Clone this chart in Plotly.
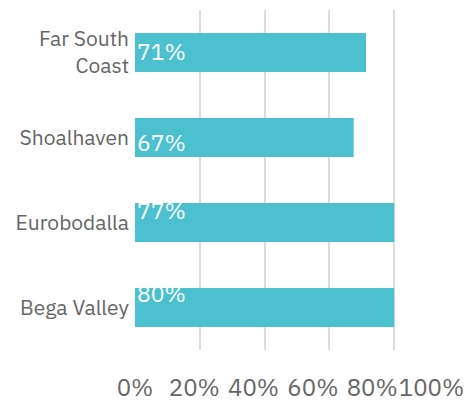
import plotly.graph_objects as go

# Data
categories = ["Far South<br>Coast", "Shoalhaven", "Eurobodalla", "Bega Valley"]
bar_values = [71.3, 67.5, 80.0, 80.0]          # bar lengths as drawn (%)
bar_labels = ["71%", "67%", "77%", "80%"]       # labels as printed
tick_values = [0, 20, 40, 60, 80, 100]
tick_labels = ["0%", "20%", "40%", "60%", "80%", "100%"]

# Styles
FONT = "IBM Plex Sans, Open Sans, sans-serif"
BAR_COLOR = "#4bc1d0"
TEXT_GRAY = "#666666"
GRID = "#dcdcdc"
label_yshift = [1.5, -4.5, 13, 15]   # pixel offsets of the in-bar labels

fig = go.Figure()
fig.add_trace(go.Bar(
    x=bar_values, y=categories, orientation="h",
    marker=dict(color=BAR_COLOR, line=dict(width=0)),
    hoverinfo="skip", showlegend=False,
))
# invisible helper trace so the label axis is drawn
fig.add_trace(go.Scatter(
    x=[tick_values[0], tick_values[-1]], y=[categories[0], categories[0]],
    xaxis="x2", mode="markers", marker=dict(opacity=0),
    hoverinfo="skip", showlegend=False,
))

for cat, lab, ys in zip(categories, bar_labels, label_yshift):
    fig.add_annotation(
        x=0, y=cat, xref="x", yref="y", text=lab, showarrow=False,
        xanchor="left", yanchor="middle", xshift=0, yshift=ys,
        font=dict(family=FONT, size=23, color="#ffffff"),
    )

# page body has an 8px default margin, so the figure is sized to fit
fig.update_layout(
    width=463, height=395,
    margin=dict(l=127, r=12, t=2, b=53, autoexpand=False),
    paper_bgcolor="white", plot_bgcolor="rgba(0,0,0,0)",
    bargap=0.54,
    font=dict(family=FONT, color=TEXT_GRAY),
    xaxis=dict(
        range=[0, 100], tickvals=tick_values, showticklabels=False,
        showgrid=True, gridcolor=GRID, gridwidth=2, zeroline=False,
        showline=False, ticks="", fixedrange=True, automargin=False,
    ),
    xaxis2=dict(
        domain=[0, 0.915], anchor="y", range=[0, 100],
        tickvals=tick_values, ticktext=tick_labels, tickangle=0,
        showgrid=False, zeroline=False, showline=False, ticks="",
        tickfont=dict(family=FONT, size=24, color=TEXT_GRAY),
        ticklabelstandoff=21, automargin=False,
    ),
    yaxis=dict(
        autorange="reversed", showgrid=False, zeroline=False, showline=False,
        ticks="", tickfont=dict(family=FONT, size=21, color=TEXT_GRAY),
        ticklabelstandoff=5, automargin=False,
    ),
)

fig.write_html("out.html")
